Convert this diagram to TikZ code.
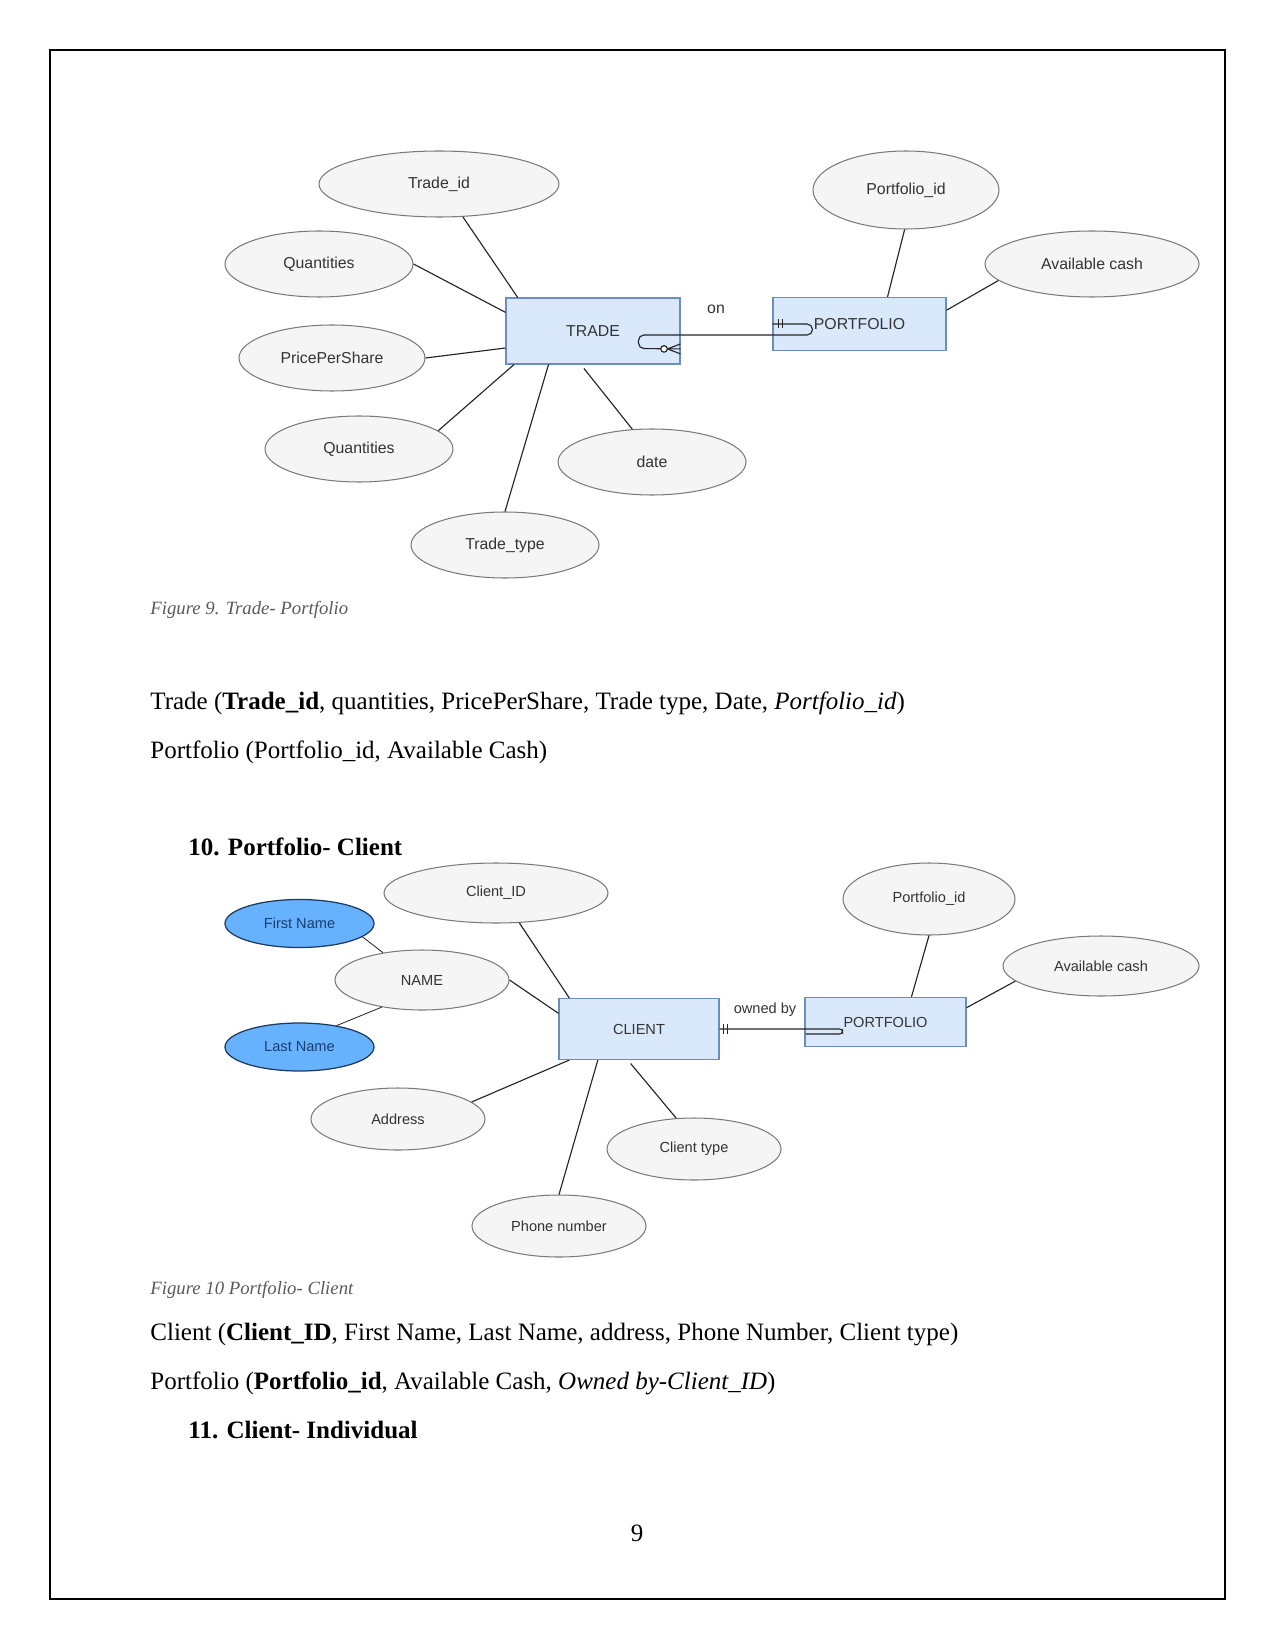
\documentclass[tikz,border=0pt]{standalone}
\usepackage{fontspec}
\setmainfont{Liberation Serif}
\setsansfont{Liberation Sans}
\usepackage{xcolor}
\usetikzlibrary{shapes.geometric}

\definecolor{attrfill}{HTML}{F5F5F5}
\definecolor{attrline}{HTML}{7A7A7A}
\definecolor{entfill}{HTML}{DAE8FC}
\definecolor{entline}{HTML}{6C8EBF}
\definecolor{subfill}{HTML}{66B2FF}
\definecolor{subline}{HTML}{1F3A5F}
\definecolor{subtext}{HTML}{1D3D6E}
\definecolor{ertext}{HTML}{333333}
\definecolor{capgray}{HTML}{595959}

\begin{document}
\begin{tikzpicture}[x=0.48pt,y=-0.48pt,
  sz/.style 2 args={minimum width=#1*0.48pt,minimum height=#2*0.48pt},
  erfont/.style={font=\sffamily\fontsize{7.6}{9}\selectfont},
  smallfont/.style={font=\sffamily\fontsize{7}{8.4}\selectfont},
  attr/.style={ellipse,draw=attrline,fill=attrfill,line width=0.5pt,inner sep=0pt,erfont,text=ertext},
  sub/.style={ellipse,draw=subline,fill=subfill,line width=0.6pt,inner sep=0pt,smallfont,text=subtext},
  ent/.style={rectangle,draw=entline,fill=entfill,line width=0.5pt,inner sep=0pt,erfont,text=ertext},
  lbl/.style={inner sep=0pt,erfont,text=ertext},
  link/.style={draw=black!85,line width=0.55pt},
  body/.style={anchor=west,inner sep=0pt,font=\fontsize{12}{14}\selectfont},
  figcap/.style={anchor=west,inner sep=0pt,font=\itshape\fontsize{9}{11}\selectfont,text=capgray}]
\useasboundingbox (0,0) rectangle (1275,1650);
\draw[line width=0.6pt] (50,50) rectangle (1225,1599);
%fig 9
\node[ent,sz={174}{66}] (trade) at (593,331) {TRADE};
\node[ent,sz={173}{53}] (pf1) at (859.5,324) {PORTFOLIO};
\node[attr,sz={240}{66}] (tid) at (439,184) {Trade\_id};
\node[attr,sz={188}{66}] (qty1) at (319,264) {Quantities};
\node[attr,sz={186}{66}] (pps) at (332,358) {PricePerShare};
\node[attr,sz={188}{66}] (qty2) at (359,449) {Quantities};
\node[attr,sz={188}{66}] (date) at (652,462) {date};
\node[attr,sz={188}{66}] (ttype) at (505,545) {Trade\_type};
\node[attr,sz={186}{78}] (pid1) at (906,190) {Portfolio\_id};
\node[attr,sz={214}{66}] (cash1) at (1092,264) {Available cash};
\node[lbl] (on) at (716,309) {on};
% attributes
\draw[link] (tid.-54) -- (trade.156);
\draw[link] (qty1.east) -- (trade.168);
\draw[link] (pps.east) -- (trade.-169);
\draw[link] (qty2.13) -- (trade.-157);
\draw[link] (ttype.north) -- (trade.-143);
\draw[link,shorten >=2.4pt] (date.121) -- (trade.-110);
\draw[link] (pid1.-92) -- (pf1.44);
\draw[link] (cash1.190) -- (pf1.9);
% relation
\coordinate (crow) at ([yshift=-8.6pt]trade.east);
\draw[link,rounded corners=2.6pt] (pf1.west) -- ++(40,0) -- ++(0,11) -- ++(-174,0) -- ++(0,13.5) -- (crow);
\draw[link] (pf1.west) ++(6,-4.5) -- ++(0,9) ++(4,-9) -- ++(0,9);
\draw[link] (crow) ++(-13,0) -- ++(13,-5) (crow) ++(-13,0) -- ++(13,5);
\draw[link,fill=white] (crow) ++(-16.5,0) circle (3.3);
\node[figcap] (cap9) at (150,610) {Figure 9. Trade- Portfolio};
\node[body] (rel1) at (150,703) {Trade (\textbf{Trade\_id}, quantities, PricePerShare, Trade type, Date, \textit{Portfolio\_id})};
\node[body] (rel2) at (150,752) {Portfolio (Portfolio\_id, Available Cash)};
\node[body,font=\bfseries\fontsize{12}{14}\selectfont] (h10) at (188,847) {10. Portfolio- Client};
%fig 10
\node[ent,smallfont,sz={160}{61}] (client) at (639,1029) {CLIENT};
\node[ent,smallfont,sz={161}{49}] (pf2) at (885.5,1022) {PORTFOLIO};
\node[attr,smallfont,sz={224}{60}] (cid) at (496,893) {Client\_ID};
\node[sub,sz={149}{48}] (fname) at (299.5,923.5) {First Name};
\node[attr,smallfont,sz={174}{60}] (name) at (422,980) {NAME};
\node[sub,sz={149}{48}] (lname) at (299.5,1047) {Last Name};
\node[attr,smallfont,sz={174}{62}] (addr) at (398,1119) {Address};
\node[attr,smallfont,sz={174}{62}] (ctype) at (694,1149) {Client type};
\node[attr,smallfont,sz={174}{62}] (phone) at (559,1226) {Phone number};
\node[attr,smallfont,sz={172}{72}] (pid2) at (929,899) {Portfolio\_id};
\node[attr,smallfont,sz={196}{60}] (cash2) at (1101,966) {Available cash};
\node[lbl,smallfont] (owned) at (765,1010) {owned by};
% attributes
\draw[link] (cid.-52) -- (client.156);
\draw[link] (name.east) -- (client.169);
\draw[link,line width=0.4pt] (fname.-12) -- (name.145);
\draw[link,line width=0.4pt] (lname.30) -- (name.-146);
\draw[link] (addr.13) -- (client.-156);
\draw[link] (phone.north) -- (client.-143);
\draw[link,shorten >=2.2pt] (ctype.120) -- (client.-110);
\draw[link] (pid2.south) -- (pf2.44);
\draw[link] (cash2.190) -- (pf2.10);
% relation
\draw[link,rounded corners=1.4pt] (client.east) -- ++(123,0) -- ++(0,5) -- ++(-37,0);
\draw[link] (client.east) ++(4,-5) -- ++(0,10) ++(4,-10) -- ++(0,10);
\node[figcap] (cap10) at (150,1290) {Figure 10 Portfolio- Client};
\node[body] (rel3) at (150,1335) {Client (\textbf{Client\_ID}, First Name, Last Name, address, Phone Number, Client type)};
\node[body] (rel4) at (150,1383) {Portfolio (\textbf{Portfolio\_id}, Available Cash, \textit{Owned by-Client\_ID})};
\node[body,font=\bfseries\fontsize{12}{14}\selectfont] (h11) at (188,1430) {11. Client- Individual};
\node[inner sep=0pt,font=\fontsize{12}{14}\selectfont] (pno) at (637,1533) {9};
\end{tikzpicture}
\end{document}
